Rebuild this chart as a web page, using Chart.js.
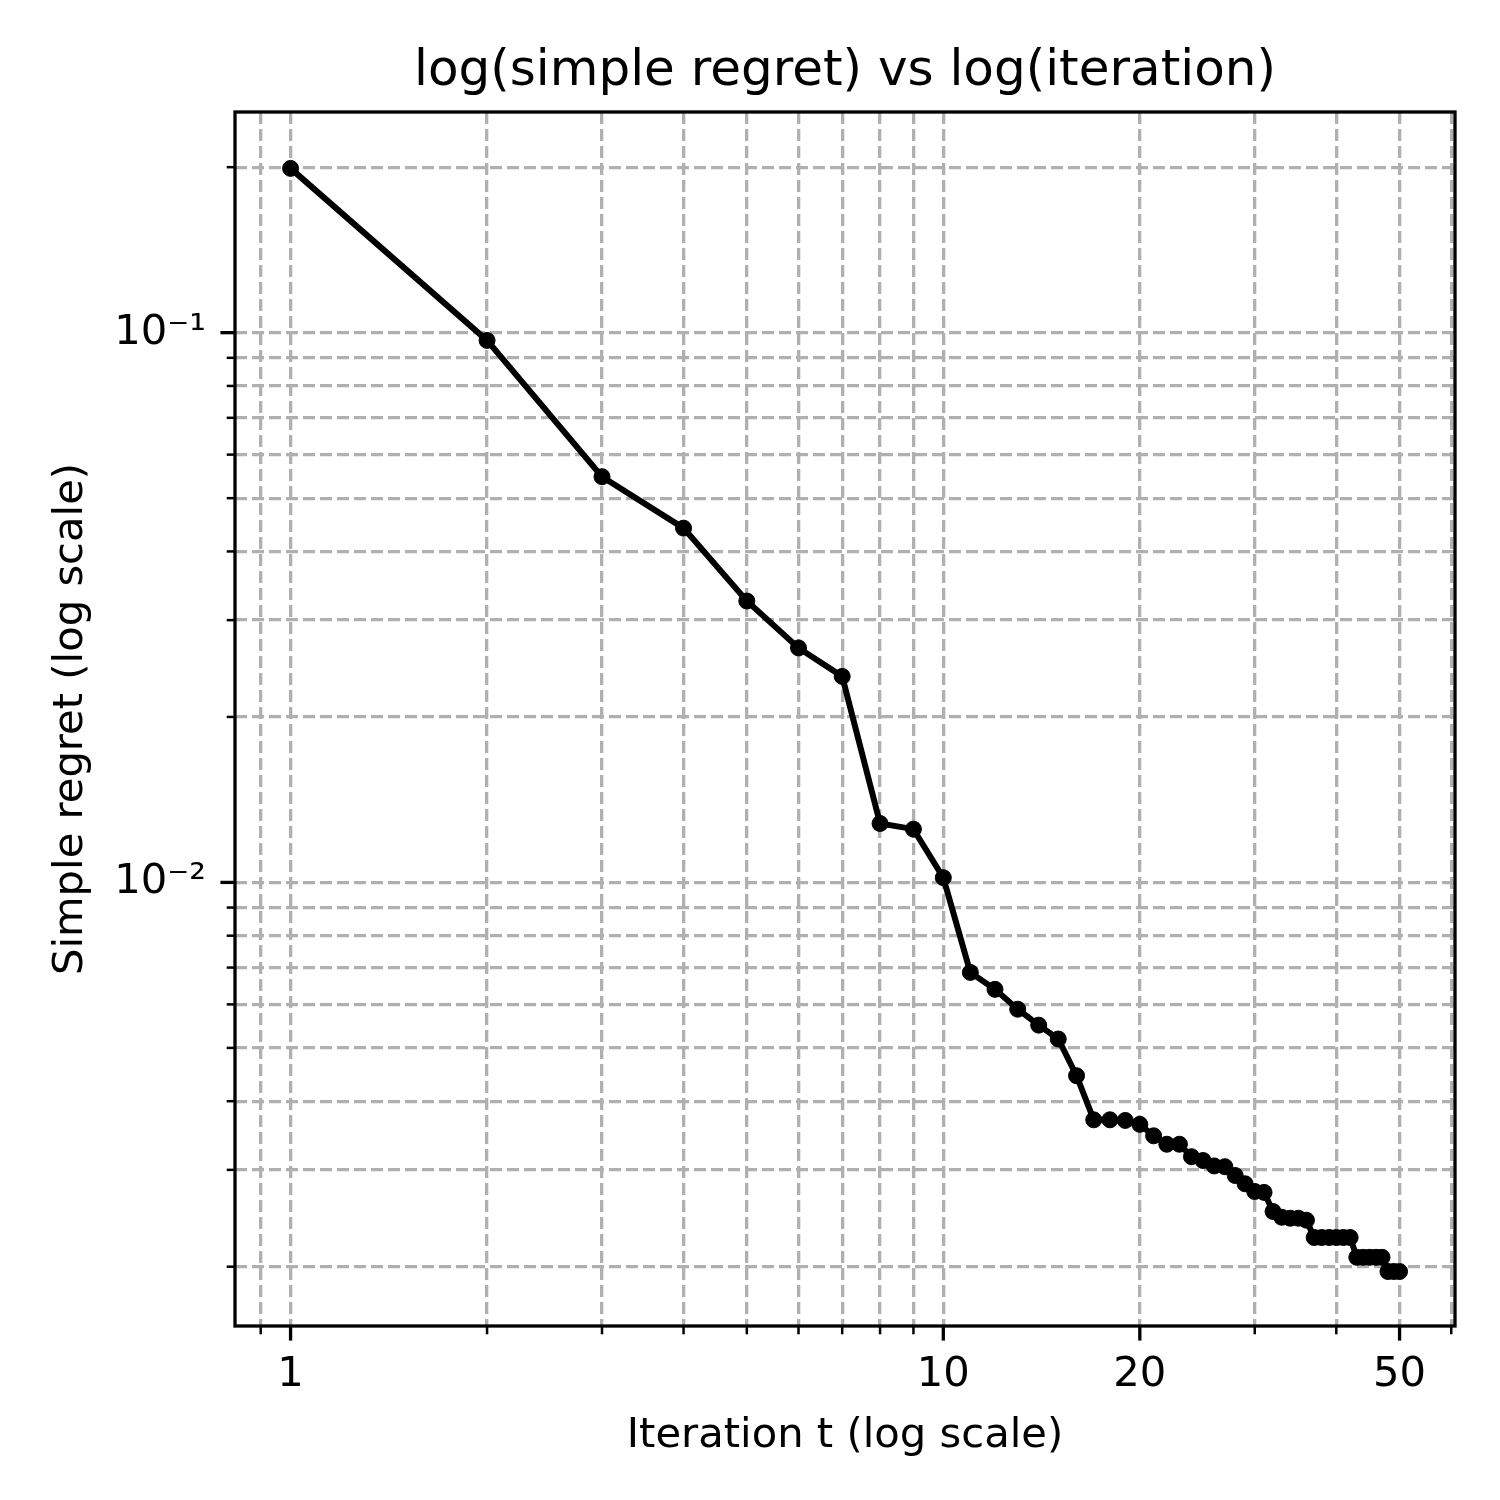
<!DOCTYPE html>
<html>
<head>
<meta charset="utf-8">
<script src="https://cdn.jsdelivr.net/npm/chart.js@4/dist/chart.umd.min.js"></script>
<style>
  html, body { margin: 0; padding: 0; background: #fff; }
  canvas { display: block; }
</style>
</head>
<body>
<canvas id="regretChart" width="1500" height="1500"></canvas>
<script>
const iterations = [1, 2, 3, 4, 5, 6, 7, 8, 9, 10,
    11, 12, 13, 14, 15, 16, 17, 18, 19, 20,
    21, 22, 23, 24, 25, 26, 27, 28, 29, 30,
    31, 32, 33, 34, 35, 36, 37, 38, 39, 40,
    41, 42, 43, 44, 45, 46, 47, 48, 49, 50];
const simpleRegret = [0.199, 0.0968, 0.0547, 0.0441, 0.0325, 0.0267, 0.0237, 0.0128, 0.0125, 0.0102,
    0.00686, 0.00639, 0.00588, 0.00550, 0.00519, 0.00445, 0.00370, 0.00370, 0.00369, 0.00363,
    0.00346, 0.00334, 0.00334, 0.00317, 0.00312, 0.00305, 0.00304, 0.00293, 0.00283, 0.00274,
    0.00273, 0.00252, 0.00246, 0.00245, 0.00245, 0.00243, 0.00226, 0.00226, 0.00226, 0.00226,
    0.00226, 0.00226, 0.00208, 0.00208, 0.00208, 0.00208, 0.00208, 0.00196, 0.00196, 0.00196];

const xMajorTicks = [1, 10, 20, 50];
const xMajorLabels = ['1', '10', '20', '50'];
const xMinorTicks = [0.9, 2, 3, 4, 5, 6, 7, 8, 9, 30, 40, 60];
const yMajorTicks = [0.01, 0.1];
const yMajorLabels = ['10\u207B\u00B2', '10\u207B\u00B9'];
const yMinorTicks = [0.002, 0.003, 0.004, 0.005, 0.006, 0.007, 0.008, 0.009,
    0.02, 0.03, 0.04, 0.05, 0.06, 0.07, 0.08, 0.09, 0.2];

Chart.defaults.font.family = "'DejaVu Sans', sans-serif";
Chart.defaults.color = '#000';

const gridStyle = {
    color: '#b0b0b0',
    lineWidth: 3.3,
    drawTicks: false
};

// matplotlib-style tick marks and box around the axes
const axisFrame = {
    id: 'axisFrame',
    afterDraw(chart) {
        const ctx = chart.ctx;
        const area = chart.chartArea;
        const xs = chart.scales.x;
        const ys = chart.scales.y;
        ctx.save();
        ctx.strokeStyle = '#000';
        xs.ticks.forEach(t => {
            const major = xMajorTicks.includes(t.value);
            const px = xs.getPixelForValue(t.value);
            ctx.lineWidth = major ? 3.3 : 2.5;
            ctx.beginPath();
            ctx.moveTo(px, area.bottom);
            ctx.lineTo(px, area.bottom + (major ? 14.6 : 8.3));
            ctx.stroke();
        });
        ys.ticks.forEach(t => {
            const major = yMajorTicks.includes(t.value);
            const py = ys.getPixelForValue(t.value);
            ctx.lineWidth = major ? 3.3 : 2.5;
            ctx.beginPath();
            ctx.moveTo(area.left, py);
            ctx.lineTo(area.left - (major ? 14.6 : 8.3), py);
            ctx.stroke();
        });
        ctx.lineWidth = 3.3;
        ctx.strokeRect(area.left, area.top, area.right - area.left, area.bottom - area.top);
        ctx.restore();
    }
};

new Chart(document.getElementById('regretChart'), {
    type: 'line',
    data: {
        datasets: [{
            label: 'Simple regret',
            data: iterations.map((t, i) => ({ x: t, y: simpleRegret[i] })),
            borderColor: '#000',
            backgroundColor: '#000',
            borderWidth: 6,
            pointRadius: 8,
            pointBorderWidth: 1,
            pointBorderColor: '#000',
            pointBackgroundColor: '#000',
            tension: 0,
            fill: false
        }]
    },
    options: {
        responsive: false,
        animation: false,
        devicePixelRatio: 1,
        elements: {
            point: { radius: 8, borderWidth: 1 }
        },
        layout: {
            padding: { left: 0, right: 45, top: 0, bottom: 0 }
        },
        plugins: {
            legend: { display: false },
            tooltip: { enabled: false },
            title: {
                display: true,
                fullSize: false,
                text: 'log(simple regret) vs log(iteration)',
                font: { size: 50, weight: 'normal' },
                padding: { top: 42, bottom: 10 }
            }
        },
        scales: {
            x: {
                type: 'logarithmic',
                min: 0.822,
                max: 60.8,
                bounds: 'data',
                afterBuildTicks: function(scale) {
                    scale.ticks = xMinorTicks.concat(xMajorTicks).sort((a, b) => a - b).map(v => ({ value: v }));
                },
                afterFit: function(scale) {
                    scale.height = 174;
                },
                grid: gridStyle,
                border: { display: false, dash: [12, 5] },
                ticks: {
                    autoSkip: false,
                    maxRotation: 0,
                    minRotation: 0,
                    padding: 24,
                    font: { size: 41.7 },
                    callback: function(value) {
                        const i = xMajorTicks.indexOf(value);
                        return i >= 0 ? xMajorLabels[i] : '';
                    }
                },
                title: {
                    display: true,
                    text: 'Iteration t (log scale)',
                    font: { size: 41.7 },
                    padding: { top: 0, bottom: 39 }
                }
            },
            y: {
                type: 'logarithmic',
                min: 0.00156,
                max: 0.252,
                bounds: 'data',
                afterBuildTicks: function(scale) {
                    scale.ticks = yMinorTicks.concat(yMajorTicks).sort((a, b) => a - b).map(v => ({ value: v }));
                },
                afterFit: function(scale) {
                    scale.width = 235;
                },
                grid: gridStyle,
                border: { display: false, dash: [12, 5] },
                ticks: {
                    autoSkip: false,
                    padding: 29,
                    font: { size: 41.7 },
                    callback: function(value) {
                        const i = yMajorTicks.indexOf(value);
                        return i >= 0 ? yMajorLabels[i] : '';
                    }
                },
                title: {
                    display: true,
                    text: 'Simple regret (log scale)',
                    font: { size: 41.7 },
                    padding: { top: 46, bottom: 0 }
                }
            }
        }
    },
    plugins: [axisFrame]
});
</script>
</body>
</html>
